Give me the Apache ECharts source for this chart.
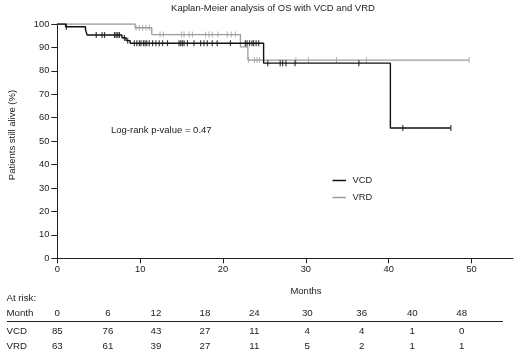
<!DOCTYPE html>
<html>
<head>
<meta charset="utf-8">
<script src="https://cdn.jsdelivr.net/npm/echarts@6/dist/echarts.min.js"></script>
<style>
html,body{margin:0;padding:0;background:#fff;}
#chart{width:520px;height:353px;}
</style>
</head>
<body>
<div id="chart"></div>
<script>
// ---- Data ----
var titleText = 'Kaplan-Meier analysis of OS with VCD and VRD';
var xTicks = [0, 10, 20, 30, 40, 50];
var yTicks = [0, 10, 20, 30, 40, 50, 60, 70, 80, 90, 100];

var vcdTimes = [0, 1.0, 3.4, 3.6, 7.8, 8.3, 8.8, 24.9, 40.2, 47.5];
var vcdSurv  = [100, 98.8, 97.6, 95.3, 94.1, 92.9, 91.8, 83.3, 55.6, 55.6];
var vcdCensor = [1.1, 4.7, 5.4, 5.7, 6.9, 7.1, 7.3, 7.5, 8.1, 8.5, 9.3, 9.6, 9.9, 10.1, 10.4, 10.6,
  10.8, 11.1, 11.5, 11.9, 12.3, 12.7, 13.3, 14.7, 14.9, 15.1, 15.3, 15.7, 16.5, 17.3, 17.7,
  18.1, 18.7, 19.3, 20.9, 22.7, 22.9, 23.2, 23.5, 23.7, 24.0, 24.3, 25.4, 26.9, 27.2, 27.6,
  28.7, 36.4, 41.7, 47.5];

var vrdTimes = [0, 9.4, 11.4, 22.1, 23.0, 49.7];
var vrdSurv  = [100, 98.4, 95.5, 90.2, 84.6, 84.6];
var vrdCensor = [9.5, 9.9, 10.3, 10.7, 11.1, 12.4, 12.8, 15.0, 15.3, 15.9, 16.3, 17.9, 18.3,
  18.7, 19.4, 20.5, 21.0, 21.5, 23.1, 23.8, 24.1, 24.4, 28.8, 30.3, 33.7, 37.3, 49.7];

var riskMonths = [0, 6, 12, 18, 24, 30, 36, 40, 48];
var vcdRisk = [85, 76, 43, 27, 11, 4, 4, 1, 0];
var vrdRisk = [63, 61, 39, 27, 11, 5, 2, 1, 1];
var seriesNames = ['VCD', 'VRD'];

// ---- Build ----
function stepValue(times, surv, t) {
  var v = surv[0];
  for (var i = 0; i < times.length; i++) { if (times[i] <= t) v = surv[i]; }
  return v;
}
function pairs(xs, ys) { return xs.map(function (x, i) { return [x, ys[i]]; }); }
function censorPts(cs, times, surv) { return cs.map(function (t) { return [t, stepValue(times, surv, t)]; }); }

var FONT = '"Liberation Sans", Arial, sans-serif';
var TXT = '#222';
var BLACK = '#111';
var GRAY = '#9c9c9c';

var chart = echarts.init(document.getElementById('chart'), null, {renderer: 'canvas'});

var colX = [57.3, 108, 156, 205, 254.3, 307.3, 361.7, 412.3, 461.7];
var graphics = [];
function txt(s, x, y, align, size, extra) {
  var g = {type: 'text', x: x, y: y, silent: true,
    style: {text: s, fill: TXT, font: (size || 9.5) + 'px ' + FONT, textAlign: align || 'center', textVerticalAlign: 'middle'}};
  if (extra) for (var k in extra) g[k] = extra[k];
  graphics.push(g);
}
txt(titleText, 273, 8.5, 'center', 9.5);
txt('Patients still alive (%)', 12.5, 135, 'center', 9.5, {rotation: Math.PI / 2});
txt('Log-rank p-value = 0.47', 111, 130.7, 'left', 9.5);
txt('Months', 306, 291, 'center', 9.5);
txt('At risk:', 6.5, 298.3, 'left', 9.7);
txt('Month', 6.5, 313.3, 'left', 9.7);
txt(seriesNames[0], 6.5, 331, 'left', 9.7);
txt(seriesNames[1], 6.5, 346.5, 'left', 9.7);
riskMonths.forEach(function (m, i) {
  txt(String(m), colX[i], 313.3, 'center', 9.7);
  txt(String(vcdRisk[i]), colX[i], 331, 'center', 9.7);
  txt(String(vrdRisk[i]), colX[i], 346.5, 'center', 9.7);
});
graphics.push({type: 'line', silent: true, shape: {x1: 7, y1: 321.5, x2: 503, y2: 321.5},
  style: {stroke: '#222', lineWidth: 1}});
// legend
graphics.push({type: 'line', silent: true, shape: {x1: 332.5, y1: 180.5, x2: 346, y2: 180.5}, style: {stroke: BLACK, lineWidth: 1.5}});
graphics.push({type: 'line', silent: true, shape: {x1: 332.5, y1: 197.5, x2: 346, y2: 197.5}, style: {stroke: GRAY, lineWidth: 1.5}});
txt(seriesNames[0], 352.5, 180.5, 'left', 9.3);
txt(seriesNames[1], 352.5, 197.5, 'left', 9.3);

var option = {
  animation: false,
  backgroundColor: '#fff',
  grid: {left: 57.3, right: 7, top: 24, bottom: 94.7, containLabel: false},
  xAxis: {
    type: 'value', min: 0, max: 55, interval: 10,
    axisLine: {show: true, lineStyle: {color: '#222', width: 1}},
    axisTick: {show: true, length: 5, lineStyle: {color: '#222'}, customValues: xTicks},
    axisLabel: {color: TXT, fontSize: 9.3, fontFamily: FONT, margin: 7, customValues: xTicks},
    splitLine: {show: false}
  },
  yAxis: {
    type: 'value', min: 0, max: 100, interval: 10,
    axisLine: {show: true, lineStyle: {color: '#222', width: 1}},
    axisTick: {show: true, length: 6, lineStyle: {color: '#222'}, customValues: yTicks},
    axisLabel: {color: TXT, fontSize: 9.3, fontFamily: FONT, margin: 8, customValues: yTicks},
    splitLine: {show: false}
  },
  graphic: graphics,
  series: [
    {name: 'VRD', type: 'line', step: 'end', data: pairs(vrdTimes, vrdSurv), showSymbol: false,
      lineStyle: {color: GRAY, width: 1.3}, z: 2},
    {name: 'VRD censored', type: 'scatter', data: censorPts(vrdCensor, vrdTimes, vrdSurv),
      symbol: 'rect', symbolSize: [1, 6], itemStyle: {color: GRAY}, z: 2},
    {name: 'VCD', type: 'line', step: 'end', data: pairs(vcdTimes, vcdSurv), showSymbol: false,
      lineStyle: {color: BLACK, width: 1.4}, z: 3},
    {name: 'VCD censored', type: 'scatter', data: censorPts(vcdCensor, vcdTimes, vcdSurv),
      symbol: 'rect', symbolSize: [1.2, 6], itemStyle: {color: BLACK}, z: 3}
  ]
};
chart.setOption(option);
</script>
</body>
</html>
